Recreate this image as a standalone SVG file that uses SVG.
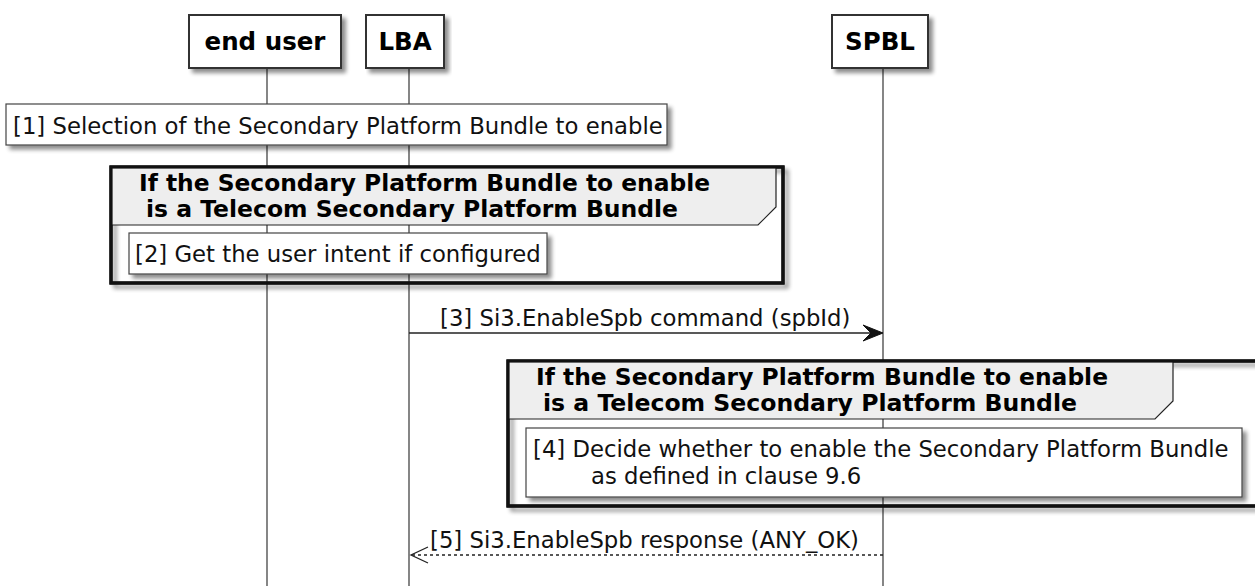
<svg xmlns="http://www.w3.org/2000/svg" width="1255" height="586" viewBox="0 0 1255 586">
<style>
  .bg{fill:#ffffff}
  .life{stroke:#444;stroke-width:1.3;fill:none}
  .part{fill:#ffffff;stroke:#333;stroke-width:2}
  .ptxt{font-family:"DejaVu Sans","Liberation Sans",sans-serif;font-size:24.5px;font-weight:bold;fill:#000;text-anchor:middle}
  .note{fill:#ffffff;stroke:#444;stroke-width:1.2}
  .txt{font-family:"DejaVu Sans","Liberation Sans",sans-serif;font-size:22.75px;fill:#111}
  .htxt{font-family:"DejaVu Sans","Liberation Sans",sans-serif;font-size:22.75px;font-weight:bold;fill:#000}
  .hdr{fill:#eeeeee;stroke:#222;stroke-width:1.2}
  .frame{fill:none;stroke:#111;stroke-width:3.2}
  .msg{stroke:#222;stroke-width:1.3;fill:none}
  .dash{stroke-dasharray:3,3}
</style>
<defs>
  <filter id="sh" x="-5%" y="-10%" width="115%" height="140%">
    <feGaussianBlur in="SourceAlpha" stdDeviation="2"/>
    <feOffset dx="4" dy="4" result="b"/>
    <feComponentTransfer><feFuncA type="linear" slope="0.45"/></feComponentTransfer>
    <feMerge><feMergeNode/><feMergeNode in="SourceGraphic"/></feMerge>
  </filter>
</defs>
<rect class="bg" x="0" y="0" width="1255" height="586"/>

<g id="lifelines">
  <line class="life" x1="267" y1="68" x2="267" y2="586"/>
  <line class="life" x1="409" y1="68" x2="409" y2="586"/>
  <line class="life" x1="883" y1="68" x2="883" y2="586"/>
</g>

<g id="p-enduser">
  <rect class="part" x="189" y="15" width="152" height="53" filter="url(#sh)"/>
  <text class="ptxt" x="265" y="50">end user</text>
</g>
<g id="p-lba">
  <rect class="part" x="366" y="15" width="78" height="53" filter="url(#sh)"/>
  <text class="ptxt" x="405" y="50">LBA</text>
</g>
<g id="p-spbl">
  <rect class="part" x="832" y="15" width="96" height="53" filter="url(#sh)"/>
  <text class="ptxt" x="880" y="50">SPBL</text>
</g>

<g id="note1">
  <rect class="note" x="6" y="104" width="661" height="41" filter="url(#sh)"/>
  <text class="txt" x="13" y="134">[1] Selection of the Secondary Platform Bundle to enable</text>
</g>

<g id="group1">
  <rect class="frame" x="111" y="167" width="672" height="116" filter="url(#sh)"/>
  <path class="hdr" d="M111,167 H776 V207 L758,225 H111 Z"/>
  <rect class="frame" x="111" y="167" width="672" height="116"/>
  <text class="htxt" x="139" y="191" textLength="571" lengthAdjust="spacingAndGlyphs">If the Secondary Platform Bundle to enable</text>
  <text class="htxt" x="146" y="217" textLength="532" lengthAdjust="spacingAndGlyphs">is a Telecom Secondary Platform Bundle</text>
</g>

<g id="note2">
  <rect class="note" x="129" y="233" width="418" height="41" filter="url(#sh)"/>
  <text class="txt" x="135" y="262">[2] Get the user intent if configured</text>
</g>

<g id="group2">
  <rect class="frame" x="508" y="361" width="760" height="145" filter="url(#sh)"/>
  <path class="hdr" d="M508,361 H1173 V401 L1155,419 H508 Z"/>
  <rect class="frame" x="508" y="361" width="760" height="145"/>
  <text class="htxt" x="536" y="385" textLength="572" lengthAdjust="spacingAndGlyphs">If the Secondary Platform Bundle to enable</text>
  <text class="htxt" x="543" y="411" textLength="534" lengthAdjust="spacingAndGlyphs">is a Telecom Secondary Platform Bundle</text>
</g>

<g id="note4">
  <rect class="note" x="526" y="428" width="716" height="69" filter="url(#sh)"/>
  <text class="txt" x="533" y="457">[4] Decide whether to enable the Secondary Platform Bundle</text>
  <text class="txt" x="591" y="484">as defined in clause 9.6</text>
</g>

<g id="connectors">
  <g id="msg3">
    <line class="msg" x1="409" y1="333" x2="872" y2="333"/>
    <polygon points="883,333 863,325 871,333 863,341" fill="#111" stroke="#111" stroke-width="1"/>
    <text class="txt" x="440" y="326">[3] Si3.EnableSpb command (spbId)</text>
  </g>
  <g id="msg5">
    <line class="msg dash" x1="883" y1="555" x2="412" y2="555"/>
    <polyline class="msg" points="428,547 411,555 428,563" stroke-width="2.4" stroke="#111"/>
    <text class="txt" x="430" y="548">[5] Si3.EnableSpb response (ANY_OK)</text>
  </g>
</g>
</svg>
